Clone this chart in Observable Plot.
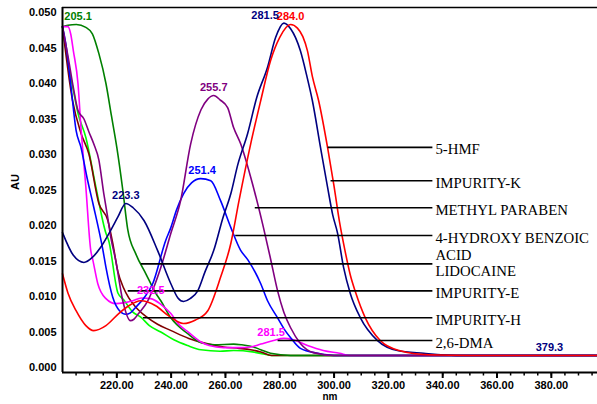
<!DOCTYPE html>
<html>
<head>
<meta charset="utf-8">
<script src="https://cdn.jsdelivr.net/npm/d3@7"></script>
<script src="https://cdn.jsdelivr.net/npm/@observablehq/plot@0.6"></script>
<style>
  html, body { margin: 0; padding: 0; background: #fff; }
  #chart { width: 597px; height: 404px; overflow: hidden; }
</style>
</head>
<body>
<div id="chart"></div>
<script>
// ---- Data (wavelength nm, absorbance AU) ----
const hmfNm = [200, 202, 205, 208.6, 211.5, 216, 220.7, 224.4, 228.8, 234.3, 239, 244.5, 249, 253.5, 258.2, 262, 265, 269.3, 273, 276.6, 280, 284, 286.5, 288.5, 290.2, 292, 294.3, 297.6, 300, 302, 304, 306, 308, 311.5, 317, 324, 335, 350, 397];
const hmfAU = [0.0132, 0.0105, 0.0080, 0.0059, 0.0052, 0.0059, 0.0076, 0.0087, 0.0094, 0.0087, 0.0073, 0.0062, 0.0067, 0.0080, 0.0127, 0.0175, 0.0235, 0.0315, 0.0376, 0.0432, 0.0465, 0.0483, 0.0478, 0.0466, 0.0446, 0.0410, 0.0376, 0.0310, 0.0255, 0.0205, 0.0165, 0.0130, 0.0105, 0.0070, 0.0038, 0.0024, 0.0018, 0.0017, 0.0017];

const impKNm = [200, 204, 207.9, 211, 214, 218, 220.4, 223.3, 226, 230, 235, 239.9, 242.5, 244.6, 247, 249.8, 252.5, 255.7, 259, 262, 264.5, 268.2, 271.5, 275.5, 278.5, 281.5, 284, 287.6, 290, 292, 295, 297.6, 299.5, 301.3, 303.5, 306, 309.7, 316, 323.3, 333, 345, 397];
const impKAU = [0.0190, 0.0158, 0.0148, 0.0155, 0.0169, 0.0195, 0.0212, 0.0231, 0.0225, 0.0207, 0.0165, 0.0118, 0.0098, 0.0093, 0.0097, 0.0108, 0.0135, 0.0165, 0.0210, 0.0245, 0.0285, 0.0330, 0.0380, 0.0423, 0.0465, 0.0485, 0.0477, 0.0446, 0.0410, 0.0376, 0.0310, 0.0254, 0.0215, 0.0189, 0.0141, 0.0104, 0.0070, 0.0038, 0.0024, 0.0020, 0.0017, 0.0017];

const mpNm = [200, 202, 204, 205.7, 207.9, 209.7, 211.5, 213.4, 215.2, 216.5, 217.8, 219.6, 222.2, 225, 226.3, 228, 231.4, 233.5, 236.2, 239.9, 243.5, 247.2, 251, 253.5, 255.7, 258, 260.8, 263, 265.6, 269.3, 274, 276.5, 279.2, 281.5, 284, 287.6, 292.4, 300, 397];
const mpAU = [0.0480, 0.0439, 0.0394, 0.0362, 0.0350, 0.0332, 0.0315, 0.0292, 0.0245, 0.0215, 0.0183, 0.0151, 0.0094, 0.0066, 0.0068, 0.0076, 0.0094, 0.0112, 0.0141, 0.0189, 0.0235, 0.0315, 0.0363, 0.0378, 0.0383, 0.0377, 0.0366, 0.0338, 0.0315, 0.0268, 0.0197, 0.0155, 0.0108, 0.0078, 0.0056, 0.0034, 0.0021, 0.0017, 0.0017];

const hbaNm = [200, 201.2, 203, 205, 206.8, 209, 211.2, 214.9, 216, 218.5, 221, 223.3, 225, 227, 230, 233.2, 238, 239.9, 242, 244.6, 247.5, 250.9, 254.6, 258.2, 262, 265.6, 268.2, 273, 275.5, 279.2, 282, 284, 287.6, 294, 300, 397];
const hbaAU = [0.0480, 0.0456, 0.0400, 0.0334, 0.0310, 0.0268, 0.0231, 0.0165, 0.0141, 0.0099, 0.0080, 0.0075, 0.0077, 0.0085, 0.0098, 0.0118, 0.0179, 0.0197, 0.0222, 0.0245, 0.0260, 0.0266, 0.0263, 0.0235, 0.0197, 0.0165, 0.0152, 0.0118, 0.0094, 0.0070, 0.0052, 0.0042, 0.0027, 0.0020, 0.0017, 0.0017];

const lidoNm = [200, 202, 205.1, 208.6, 211, 213.4, 216, 218, 220, 222.2, 224, 227, 230.7, 234.3, 236.2, 239.9, 246, 251, 256, 263, 266, 270.4, 273, 276.6, 284, 397];
const lidoAU = [0.0480, 0.0482, 0.0483, 0.0479, 0.0470, 0.0442, 0.0400, 0.0355, 0.0310, 0.0250, 0.0195, 0.0160, 0.0132, 0.0105, 0.0094, 0.0070, 0.0048, 0.0035, 0.0032, 0.0033, 0.0032, 0.0029, 0.0025, 0.0020, 0.0017, 0.0017];

const impENm = [200, 203.7, 206.8, 209.7, 213.4, 216.7, 218.5, 220.4, 222.5, 224.4, 227, 230.7, 235, 240, 246.5, 252.7, 259.3, 265, 269.3, 273, 277, 397];
const impEAU = [0.0480, 0.0376, 0.0330, 0.0301, 0.0231, 0.0207, 0.0175, 0.0135, 0.0112, 0.0098, 0.0085, 0.0072, 0.0061, 0.0052, 0.0041, 0.0034, 0.0029, 0.0027, 0.0025, 0.0022, 0.0017, 0.0017];

const impHNm = [200, 202, 204, 205.7, 208.6, 212.3, 216, 217, 220.4, 222.6, 225.9, 228.8, 232, 236.2, 241, 246, 251, 258, 263, 270, 274, 277, 397];
const impHAU = [0.0480, 0.0430, 0.0390, 0.0358, 0.0324, 0.0254, 0.0189, 0.0179, 0.0105, 0.0095, 0.0078, 0.0071, 0.0059, 0.0050, 0.0039, 0.0031, 0.0025, 0.0023, 0.0024, 0.0022, 0.0019, 0.0017, 0.0017];

const dmaNm = [200, 202, 203, 204, 205.7, 206.8, 208.6, 210.4, 211.2, 213, 216, 219.6, 222.5, 225.9, 229, 232.5, 236.2, 239.9, 243, 246, 251, 254, 259.3, 265, 269.3, 273, 277.7, 281.5, 285, 290.2, 296, 302, 306, 397];
const dmaAU = [0.0480, 0.0480, 0.0470, 0.0446, 0.0400, 0.0338, 0.0254, 0.0165, 0.0151, 0.0118, 0.0097, 0.0090, 0.0091, 0.0094, 0.0098, 0.0097, 0.0089, 0.0076, 0.0060, 0.0051, 0.0036, 0.0031, 0.0028, 0.0028, 0.0029, 0.0033, 0.0038, 0.0041, 0.0039, 0.0031, 0.0024, 0.0020, 0.0017, 0.0017];

// Peak annotations
const peakText  = ["205.1", "223.3", "255.7", "251.4", "281.5", "284.0", "232.5", "281.5", "379.3"];
const peakNm    = [205.1, 223.3, 255.7, 251.4, 281.5, 284.0, 232.5, 281.5, 379.3];
const peakAU    = [0.0483, 0.0231, 0.0383, 0.0266, 0.0485, 0.0483, 0.0097, 0.0041, 0.0017];
const peakOf    = ["LIDOCAINE", "IMPURITY-K", "METHYL PARABEN", "4-HYDROXY BENZOIC ACID", "IMPURITY-K", "5-HMF", "2,6-DMA", "2,6-DMA", "IMPURITY-K"];

// Compound legend labels with leader lines (level in AU, start in nm)
const compNames  = ["5-HMF", "IMPURITY-K", "METHYL PARABEN", "4-HYDROXY BENZOIC\nACID", "LIDOCAINE", "IMPURITY-E", "IMPURITY-H", "2,6-DMA"];
const compLevel  = [0.0310, 0.0263, 0.0225, 0.0186, 0.0146, 0.0108, 0.0070, 0.0038];
const compStart  = [297.6, 298.7, 270.8, 263.6, 228.8, 224.0, 229.6, 279.2];
const compEnd    = 336.2;

const yTicks = d3.range(0, 0.0501, 0.005);
const xMajor = [220, 240, 260, 280, 300, 320, 340, 360, 380];
const xMinor = d3.range(205, 396, 5);

// ---- Build tables ----
const series = [
  {name: "IMPURITY-H", color: "#00ff00", nm: impHNm, au: impHAU},
  {name: "IMPURITY-E", color: "#800000", nm: impENm, au: impEAU},
  {name: "LIDOCAINE", color: "#008000", nm: lidoNm, au: lidoAU},
  {name: "2,6-DMA", color: "#ff00ff", nm: dmaNm, au: dmaAU},
  {name: "4-HYDROXY BENZOIC ACID", color: "#0000ff", nm: hbaNm, au: hbaAU},
  {name: "METHYL PARABEN", color: "#800080", nm: mpNm, au: mpAU},
  {name: "IMPURITY-K", color: "#000080", nm: impKNm, au: impKAU},
  {name: "5-HMF", color: "#ff0000", nm: hmfNm, au: hmfAU}
];
const colorOf = Object.fromEntries(series.map(s => [s.name, s.color]));
const rows = series.flatMap(s => s.nm.map((x, i) => ({series: s.name, nm: x, au: s.au[i]})));
const peaks = peakText.map((t, i) => ({text: t, nm: peakNm[i], au: peakAU[i], color: colorOf[peakOf[i]]}));
const comps = compNames.map((n, i) => ({name: n, level: compLevel[i], start: compStart[i], end: compEnd}));

const font = "'Liberation Sans', Arial, sans-serif";
const serif = "'Liberation Serif', 'Times New Roman', serif";

const lineMarks = series.map(s => Plot.line(rows.filter(r => r.series === s.name), {
  x: "nm", y: "au", stroke: s.color, strokeWidth: 1.6, curve: "monotone-x"
}));

const compText = {x: "end", y: "level", text: "name", textAnchor: "start", lineAnchor: "top", dx: 3, lineHeight: 1.15, fontFamily: serif, fontSize: 14.8, fill: "black"};

const chart = Plot.plot({
  width: 597,
  height: 404,
  marginLeft: 62,
  marginRight: 0,
  marginTop: 7,
  marginBottom: 32,
  x: {domain: [200, 397]},
  y: {domain: [-0.0007, 0.0507]},
  style: {fontFamily: font, fontSize: "11px", color: "black", background: "white"},
  marks: [
    Plot.axisY({ticks: yTicks, tickSize: 0, tickPadding: 6, tickFormat: d => d.toFixed(3), label: null, fontWeight: "bold", fontSize: 11}),
    Plot.axisX({ticks: xMinor, tickSize: 3.5, tickFormat: () => "", label: null, strokeWidth: 1.5}),
    Plot.axisX({ticks: xMajor, tickSize: 6, tickPadding: 3, tickFormat: d => d.toFixed(2), label: null, fontWeight: "bold", fontSize: 11, strokeWidth: 2}),
    ...lineMarks,
    Plot.ruleX([200], {stroke: "black", strokeWidth: 2}),
    Plot.ruleY([-0.0007], {stroke: "black", strokeWidth: 2}),
    Plot.ruleY([0.0507], {stroke: "black", strokeWidth: 1.5}),
    // leader lines
    Plot.link(comps, {x1: "start", x2: "end", y1: "level", y2: "level", stroke: "black", strokeWidth: 1.6}),
    Plot.text(comps.filter(c => c.name !== "LIDOCAINE"), {...compText, dy: -5}),
    Plot.text(comps.filter(c => c.name === "LIDOCAINE"), {...compText, dy: 0}),
    // peak labels
    Plot.text(peaks.filter((p, i) => [1, 2, 3, 5, 6, 8].includes(i)), {x: "nm", y: "au", text: "text", fill: "color", dy: -8, fontWeight: "bold", fontSize: 11}),
    Plot.text(peaks.filter((p, i) => i === 0), {x: "nm", y: "au", text: "text", fill: "color", dy: -8, dx: -12, textAnchor: "start", fontWeight: "bold", fontSize: 11}),
    Plot.text(peaks.filter((p, i) => i === 4), {x: "nm", y: "au", text: "text", fill: "color", dy: -8, dx: -5, textAnchor: "end", fontWeight: "bold", fontSize: 11}),
    Plot.text(peaks.filter((p, i) => i === 7), {x: "nm", y: "au", text: "text", fill: "color", dy: -6, dx: 1, textAnchor: "end", fontWeight: "bold", fontSize: 11}),
    // axis titles
    Plot.text(["AU"], {frameAnchor: "left", dx: -47, rotate: -90, fontWeight: "bold", fontSize: 11}),
    Plot.text(["nm"], {frameAnchor: "bottom", dy: 27, fontWeight: "bold", fontSize: 10})
  ]
});
document.getElementById("chart").appendChild(chart);
</script>
</body>
</html>
